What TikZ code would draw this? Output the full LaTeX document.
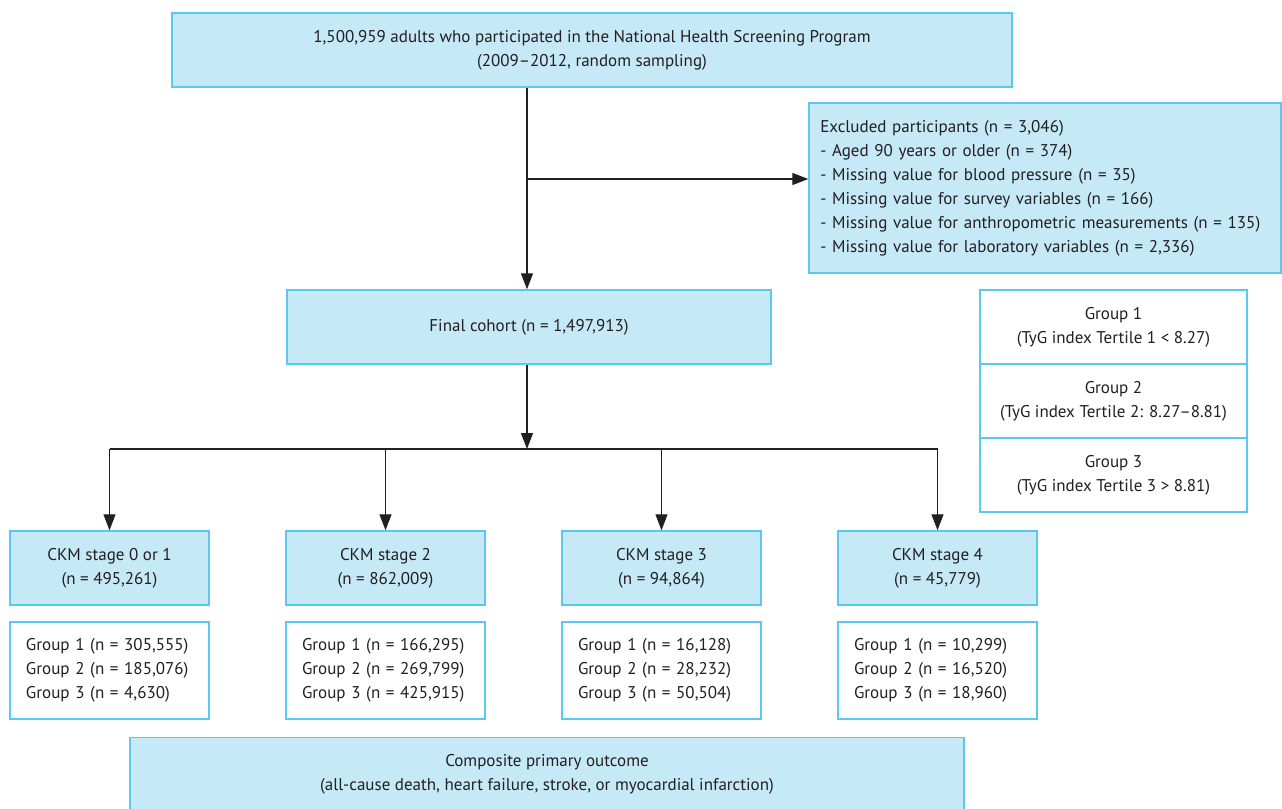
\documentclass[tikz,border=0pt]{standalone}
\usepackage{fontspec}
\setmainfont{PT Sans}
\usetikzlibrary{arrows.meta}
\definecolor{boxfill}{HTML}{C6E9F8}
\definecolor{boxline}{HTML}{5CC8EF}
\definecolor{inkline}{HTML}{231F20}

\begin{document}
\begin{tikzpicture}[x=0.75pt, y=-0.75pt, font=\fontsize{12.75}{18}\selectfont,
  >={Triangle[length=12pt,width=9pt]},
  box/.style={draw=boxline, fill=boxfill, line width=1.1pt, align=center,
              inner sep=0pt, text=inkline},
  grpbox/.style={box, fill=white, minimum width=149.25pt, minimum height=72.75pt,
                 text width=125.25pt, align=left},
  stagebox/.style={box, minimum width=149.25pt, minimum height=55.5pt},
  tertbox/.style={box, fill=white, minimum width=200.25pt, minimum height=55.5pt},
  link/.style={draw=inkline, line width=1pt}]
  \useasboundingbox (0,0) rectangle (1282,808);
  % main flow
  \node[box, minimum width=630pt, minimum height=55.5pt] (screen) at (592,50)
    {1,500,959 adults who participated in the National Health Screening Program\\
     (2009--2012, random sampling)};
  \node[box, minimum height=127.5pt, text width=337pt, align=left,
        inner xsep=8.5pt] (excl) at (1045,188)
    {Excluded participants (n = 3,046)\\
     - Aged 90 years or older (n = 374)\\
     - Missing value for blood pressure (n = 35)\\
     - Missing value for survey variables (n = 166)\\
     - Missing value for anthropometric measurements (n = 135)\\
     - Missing value for laboratory variables (n = 2,336)};
  \node[box, minimum width=363pt, minimum height=55.5pt] (final) at (529,327)
    {Final cohort (n = 1,497,913)};
  % tertile legend
  \node[tertbox] (tert1) at (1113.5,327) {Group 1\\(TyG index Tertile 1 < 8.27)};
  \node[tertbox] (tert2) at (1113.5,401) {Group 2\\(TyG index Tertile 2: 8.27--8.81)};
  \node[tertbox] (tert3) at (1113.5,475) {Group 3\\(TyG index Tertile 3 > 8.81)};
  % CKM stages
  \node[stagebox] (s1) at (109.5,568) {CKM stage 0 or 1\\(n = 495,261)};
  \node[stagebox] (s2) at (385.5,568) {CKM stage 2\\(n = 862,009)};
  \node[stagebox] (s3) at (661.5,568) {CKM stage 3\\(n = 94,864)};
  \node[stagebox] (s4) at (937.5,568) {CKM stage 4\\(n = 45,779)};
  \node[grpbox] (g1) at (109.5,670.5)
    {Group 1 (n = 305,555)\\Group 2 (n = 185,076)\\Group 3 (n = 4,630)};
  \node[grpbox] (g2) at (385.5,670.5)
    {Group 1 (n = 166,295)\\Group 2 (n = 269,799)\\Group 3 (n = 425,915)};
  \node[grpbox] (g3) at (661.5,670.5)
    {Group 1 (n = 16,128)\\Group 2 (n = 28,232)\\Group 3 (n = 50,504)};
  \node[grpbox] (g4) at (937.5,670.5)
    {Group 1 (n = 10,299)\\Group 2 (n = 16,520)\\Group 3 (n = 18,960)};
  \node[box, minimum width=625.5pt, minimum height=54.75pt] (outcome) at (547,774)
    {Composite primary outcome\\
     (all-cause death, heart failure, stroke, or myocardial infarction)};
  % connectors
  \coordinate (split) at (527,179);
  \coordinate (bus) at (527,449);
  \draw[link, ->] (split |- screen.south) -- (split |- final.north);
  \draw[link, ->] (split) -- (split -| excl.west);
  \draw[link, ->] (split |- final.south) -- (bus);
  \draw[link] (bus -| s1) -- (bus -| s4);
  \foreach \i in {1,...,4}
    \draw[link, ->] (bus -| s\i) -- (s\i.north);
\end{tikzpicture}
\end{document}
